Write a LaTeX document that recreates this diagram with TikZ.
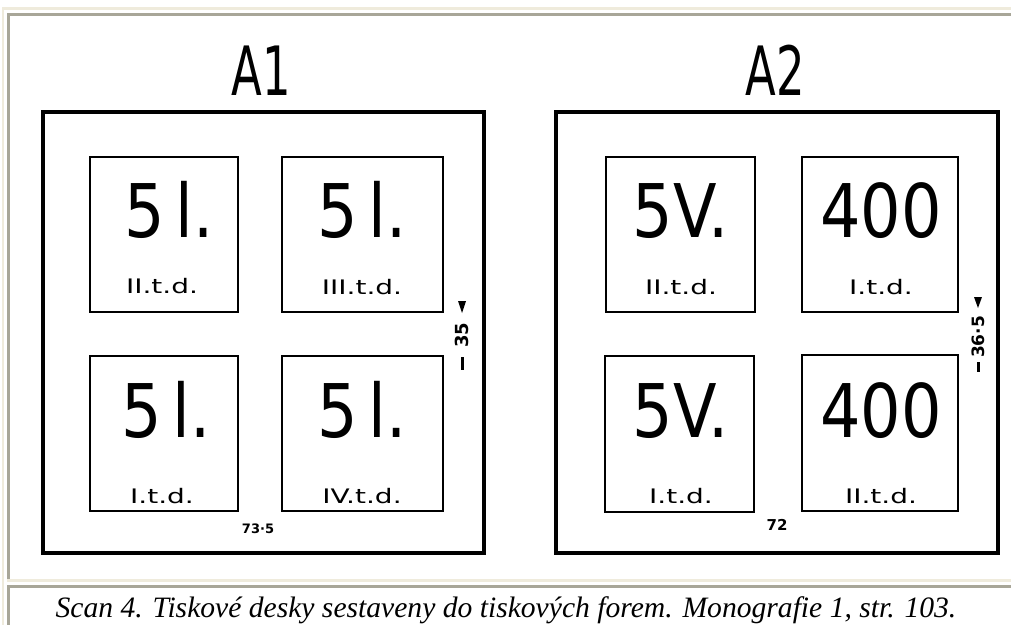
\documentclass[tikz,border=0pt]{standalone}
\usepackage{fontspec}
\setmainfont{DejaVu Sans}
\newfontfamily\hand{DejaVu Sans}
\newfontfamily\capfont{Liberation Serif}
\definecolor{beige}{HTML}{EFEBDC}
\definecolor{framegray}{HTML}{A8A698}
\begin{document}
\begin{tikzpicture}[x=1pt,y=-1pt,
  outerframe/.style={draw=black,line width=3.5pt},
  plate/.style={draw=black,line width=1.6pt},
  bignum/.style={font=\hand\fontsize{74}{74}\selectfont,anchor=base,inner sep=0pt,xscale=0.86},
  title/.style={font=\hand\fontsize{68}{68}\selectfont,anchor=base,inner sep=0pt,xscale=0.66},
  subtxt/.style={font=\hand\fontsize{20}{20}\selectfont,anchor=base,inner sep=0pt,xscale=1.4},
  dimtxt/.style={font=\hand\bfseries\fontsize{18}{18}\selectfont,inner sep=0pt},
  tip/.style={fill=black}
]
\useasboundingbox (0,0) rectangle (1011,625);
\fill[white] (0,0) rectangle (1011,625);
% page borders
\fill[beige] (2,7) rectangle (4,625);
\fill[beige] (2,7) rectangle (1011,9.5);
\fill[framegray] (7,13) rectangle (9.5,579);
\fill[framegray] (7,13) rectangle (1011,15.5);
\fill[beige] (7,579) rectangle (1011,581.5);
\fill[framegray] (7,585) rectangle (9.5,625);
\fill[framegray] (7,585) rectangle (1011,587.5);

% titles
\node[title] (tA1) at (261,95) {A1};
\node[title] (tA2) at (775,95) {A2};

% outer frames
\draw[outerframe] (43,112) rectangle (484,553);
\draw[outerframe] (556,112) rectangle (998,553);

% A1 plates
\draw[plate] (90,157) rectangle (238,312);
\draw[plate] (282,157) rectangle (443,312);
\draw[plate] (90,356) rectangle (238,511);
\draw[plate] (282,356) rectangle (443,511);
\node[bignum] (a1) at (169,237) {5\,l.};
\node[bignum] (a2) at (362,237) {5\,l.};
\node[bignum] (a3) at (166,437) {5\,l.};
\node[bignum] (a4) at (362,437) {5\,l.};
\node[subtxt] (s1) at (162,293) {II.t.d.};
\node[subtxt] (s2) at (362,294) {III.t.d.};
\node[subtxt] (s3) at (162,503) {I.t.d.};
\node[subtxt] (s4) at (362,503) {IV.t.d.};

% A2 plates
\draw[plate] (606,157) rectangle (755,312);
\draw[plate] (802,157) rectangle (958,312);
\draw[plate] (605,356) rectangle (754,512);
\draw[plate] (802,355) rectangle (958,511);
\node[bignum] (b1) at (681,237) {5V.};
\node[bignum] (b2) at (881,237) {400};
\node[bignum] (b3) at (681,437) {5V.};
\node[bignum] (b4) at (881,437) {400};
\node[subtxt] (t1) at (681,294) {II.t.d.};
\node[subtxt] (t2) at (881,294) {I.t.d.};
\node[subtxt] (t3) at (681,503) {I.t.d.};
\node[subtxt] (t4) at (881,503) {II.t.d.};

% dimensions
\node[dimtxt,rotate=90] (d1) at (462,335) {35};
\fill[tip] (458,301) -- (466,301) -- (462,313) -- cycle;
\draw[line width=3pt] (462,357) -- (462,370);
\node[dimtxt,rotate=90,font=\hand\bfseries\fontsize{17}{17}\selectfont] (d2) at (978,337) {36·5};
\fill[tip] (974,297) -- (982,297) -- (978,308) -- cycle;
\draw[line width=3pt] (978,362) -- (978,372);
\node[dimtxt,font=\hand\bfseries\fontsize{13}{13}\selectfont] (w1) at (258,529) {73·5};
\node[dimtxt,font=\hand\bfseries\fontsize{15}{15}\selectfont] (w2) at (777,525) {72};

% caption
\node[font=\capfont\itshape\fontsize{29.6}{29.6}\selectfont,anchor=base,inner sep=0pt] (cap) at (506,617)
  {Scan 4. Tiskové desky sestaveny do tiskových forem. Monografie 1, str. 103.};
\end{tikzpicture}
\end{document}
